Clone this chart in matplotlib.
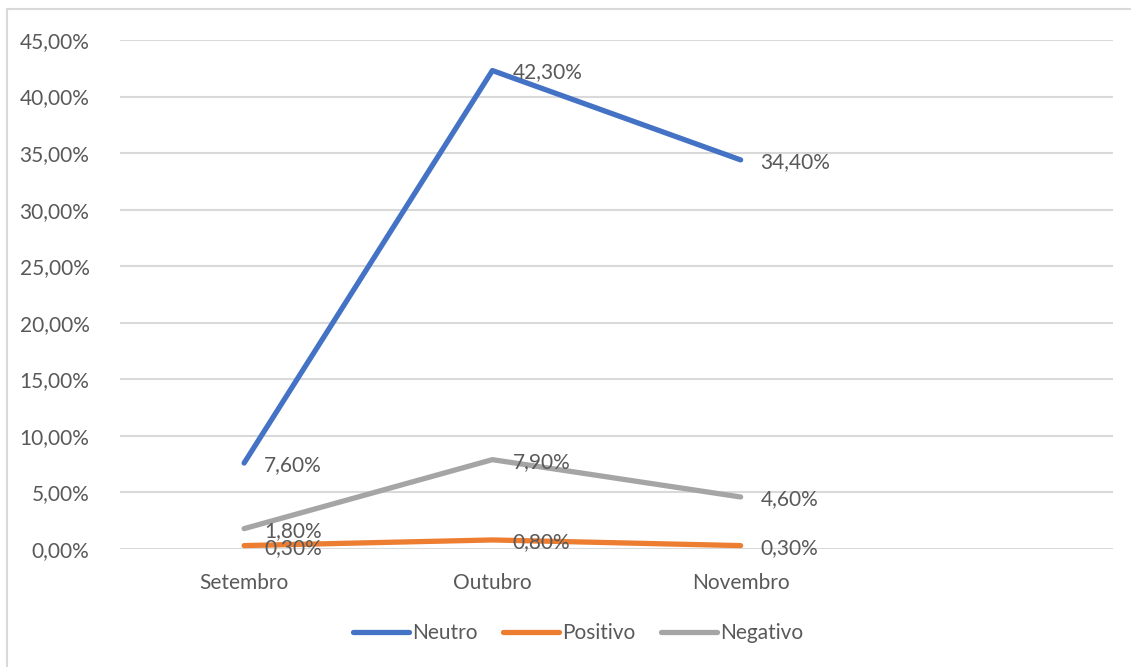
import matplotlib
matplotlib.use("Agg")
import matplotlib.pyplot as plt
from matplotlib.patches import Rectangle

categories = ["Setembro", "Outubro", "Novembro", ""]
neutro = [7.6, 42.3, 34.4]
positivo = [0.3, 0.8, 0.3]
negativo = [1.8, 7.9, 4.6]
series_names = ["Neutro", "Positivo", "Negativo"]
colors = ["#4472C4", "#ED7D31", "#A5A5A5"]
yticks = [0, 5, 10, 15, 20, 25, 30, 35, 40, 45]

plt.rcParams['font.family'] = ['Lato', 'DejaVu Sans']
txt = "#595959"
fs = 15

fig = plt.figure(figsize=(11.31, 6.67), dpi=100)
fig.patches.append(Rectangle((7/1131, -0.1), 1.2, 1 - 9/667 + 0.1, transform=fig.transFigure,
                             fill=False, edgecolor="#D9D9D9", linewidth=1.5))
ax = fig.add_axes([120/1131, 1 - 549/667, (1113 - 120)/1131, (549 - 40)/667])

x = list(range(len(neutro)))
for vals, name, c in zip([neutro, positivo, negativo], series_names, colors):
    ax.plot(x, vals, color=c, linewidth=3.8, solid_capstyle='round', label=name, zorder=3)
    for xi, v in zip(x, vals):
        ax.annotate(f"{v:.2f}%".replace(".", ","), (xi, v), xytext=(20, -2),
                    textcoords="offset pixels", ha="left", va="center",
                    fontsize=fs, color=txt, zorder=4)

ax.set_xlim(-0.5, 3.5)
ax.set_ylim(0, 45)
ax.set_xticks(range(len(categories)))
ax.set_xticklabels(categories)
ax.set_yticks(yticks)
ax.set_yticklabels([f"{t:.2f}%".replace(".", ",") for t in yticks])
ax.tick_params(axis='both', length=0, labelsize=fs, labelcolor=txt)
ax.tick_params(axis='y', pad=22)
ax.tick_params(axis='x', pad=17)
ax.grid(axis='y', color="#D9D9D9", linewidth=1.5)
ax.set_axisbelow(True)
for s in ax.spines.values():
    s.set_visible(False)

leg = fig.legend(loc="center", bbox_to_anchor=(578/1131, 1 - 633/667), ncol=3, frameon=False,
                 fontsize=fs, handlelength=2.7, handletextpad=0.15, columnspacing=1.2)
for t in leg.get_texts():
    t.set_color(txt)

fig.savefig("out.png", dpi=100)
